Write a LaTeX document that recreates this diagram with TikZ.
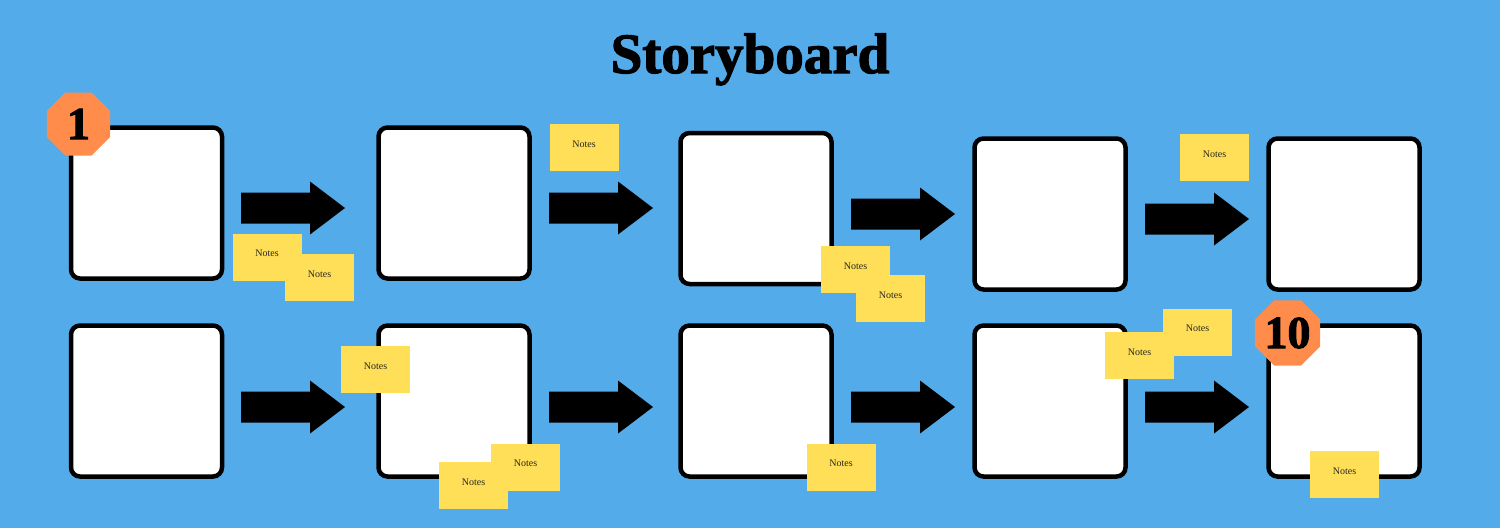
\documentclass[tikz,border=0pt]{standalone}
\usepackage{fontspec}
\setmainfont{Liberation Serif}
\newfontfamily\heavyfont{Liberation Serif}[BoldFeatures={FakeBold=2}]
\usetikzlibrary{shapes.geometric}
\definecolor{bgblue}{RGB}{84,171,234}
\definecolor{octorange}{RGB}{255,140,74}
\definecolor{noteyellow}{RGB}{255,222,88}
\definecolor{notetext}{RGB}{40,40,30}
\tikzset{
  panel/.style={draw=black, fill=white, line width=4.5pt, rounded corners=9pt,
    minimum width=151pt, minimum height=151pt, inner sep=0pt},
  note/.style={fill=noteyellow, minimum width=69pt, minimum height=47pt, inner sep=0pt,
    font=\fontsize{10}{12}\selectfont, text=notetext, text height=7pt, text depth=8pt},
  octa/.style={regular polygon, regular polygon sides=8, fill=octorange,
    minimum size=68.2pt, inner sep=0pt, font=\heavyfont\bfseries\fontsize{46}{46}\selectfont},
  barrow/.pic={\fill[black] (0,-15.5) -- (69,-15.5) -- (69,-26.5) -- (104,0) -- (69,26.5) -- (69,15.5) -- (0,15.5) -- cycle;}
}
\begin{document}
\begin{tikzpicture}[x=1pt,y=-1pt]
\useasboundingbox (0,0) rectangle (1500,528);
\fill[bgblue] (0,0) rectangle (1500,528);
% title
\node[anchor=base, font=\heavyfont\bfseries\fontsize{57}{57}\selectfont, inner sep=0pt] (title) at (750,73) {Storyboard};
% panels row 1
\node[panel] (p1) at (146.5,203) {};
\node[panel] (p2) at (454,203) {};
\node[panel] (p3) at (756,208.5) {};
\node[panel] (p4) at (1050,214) {};
\node[panel] (p5) at (1344,214) {};
% panels row 2
\node[panel] (p6) at (146.5,401) {};
\node[panel] (p7) at (454,401) {};
\node[panel] (p8) at (756,401) {};
\node[panel] (p9) at (1050,401) {};
\node[panel] (p10) at (1344,401) {};
% arrows
\coordinate (a1) at (241,208);
\coordinate (a2) at (549,208);
\coordinate (a3) at (851,214);
\coordinate (a4) at (1145,219);
\coordinate (a5) at (241,407);
\coordinate (a6) at (549,407);
\coordinate (a7) at (851,407);
\coordinate (a8) at (1145,407);
\foreach \a in {a1,a2,a3,a4,a5,a6,a7,a8} { \pic at (\a) {barrow}; }
% notes
\node[note] (n1) at (267,257) {Notes};
\node[note] (n2) at (319.5,277.5) {Notes};
\node[note] (n3) at (584,147.5) {Notes};
\node[note] (n4) at (855.5,269.5) {Notes};
\node[note] (n5) at (890.5,298.5) {Notes};
\node[note] (n6) at (1214.5,157.5) {Notes};
\node[note] (n7) at (375.5,369.5) {Notes};
\node[note] (n8) at (525.5,467) {Notes};
\node[note] (n9) at (473.5,485.5) {Notes};
\node[note] (n10) at (841,467) {Notes};
\node[note] (n11) at (1197.5,332) {Notes};
\node[note] (n12) at (1139.5,355.5) {Notes};
\node[note] (n13) at (1344.5,474.5) {Notes};
% octagons
\node[octa] (o1) at (78.5,124) {1};
\node[octa] (o10) at (1287.5,333) {10};
\end{tikzpicture}
\end{document}
